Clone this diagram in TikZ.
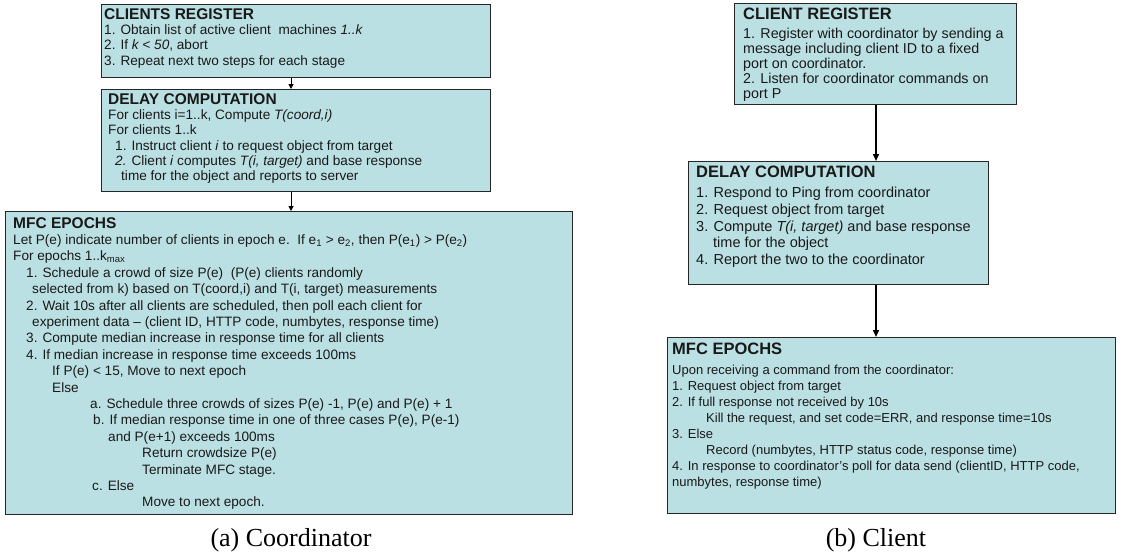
\documentclass[tikz,border=0pt]{standalone}
\usepackage{fontspec}
\setmainfont{Liberation Sans}
\newfontfamily\capfont{Liberation Serif}
\usetikzlibrary{arrows.meta}
\definecolor{boxfill}{RGB}{187,224,227}
\newcommand{\lhead}[1]{{\fontsize{15.5}{16}\selectfont\bfseries #1}}
\newcommand{\rhead}[1]{{\fontsize{16.5}{17}\selectfont\bfseries #1}}

\begin{document}
\begin{tikzpicture}[x=1pt, y=-1pt,
  box/.style={draw=black!85, line width=1.2pt, fill=boxfill, anchor=north west, inner sep=0pt},
  txt/.style={anchor=north west, align=left, inner sep=0pt, text=black!90},
  leftfont/.style={font=\fontsize{13.6}{15.2}\selectfont},
  epochfont/.style={font=\fontsize{13.6}{16.4}\selectfont},
  regfont/.style={font=\fontsize{14.3}{15}\selectfont},
  rightfont/.style={font=\fontsize{14.5}{16.8}\selectfont},
  smallfont/.style={font=\fontsize{13}{16}\selectfont},
  flow/.style={line width=1pt, -{Triangle[length=5pt,width=5pt]}},
  bigflow/.style={line width=1.5pt, -{Triangle[length=7pt,width=6pt]}},
  caption/.style={font=\capfont\fontsize{26}{30}\selectfont}
]
\useasboundingbox (0,0) rectangle (1126,558);

% (a) Coordinator
\node[box, minimum width=389, minimum height=73] (reg) at (101,4) {};
\node[box, minimum width=389, minimum height=102] (delay) at (101,89) {};
\node[box, minimum width=567, minimum height=303] (epochs) at (5,211) {};

\node[txt, leftfont] (regtxt) at ([shift={(3,4.5)}]reg.north west) {\lhead{CLIENTS REGISTER}\\
1. Obtain list of active client\ \ machines \textit{1..k}\\
2. If \textit{k < 50}, abort\\
3. Repeat next two steps for each stage};

\node[txt, leftfont] (delaytxt) at ([shift={(7,4.5)}]delay.north west) {\lhead{DELAY COMPUTATION}\\
For clients i=1..k, Compute \textit{T(coord,i)}\\
For clients 1..k\\
\hspace*{7pt}1. Instruct client \textit{i} to request object from target\\
\hspace*{7pt}\textit{2.} Client \textit{i} computes \textit{T(i, target)} and base response\\
\hspace*{13pt}time for the object and reports to server};

\node[txt, epochfont] (epochstxt) at ([shift={(8,6)}]epochs.north west) {\lhead{MFC EPOCHS}\\
Let P(e) indicate number of clients in epoch e.\ \ If e\textsubscript{1} > e\textsubscript{2}, then P(e\textsubscript{1}) > P(e\textsubscript{2})\\
For epochs 1..k\textsubscript{max}\\
\hspace*{13pt}1. Schedule a crowd of size P(e)\ \ (P(e) clients randomly\\
\hspace*{19pt}selected from k) based on T(coord,i) and T(i, target) measurements\\
\hspace*{13pt}2. Wait 10s after all clients are scheduled, then poll each client for\\
\hspace*{19pt}experiment data -- (client ID, HTTP code, numbytes, response time)\\
\hspace*{13pt}3. Compute median increase in response time for all clients\\
\hspace*{13pt}4. If median increase in response time exceeds 100ms\\
\hspace*{39pt}If P(e) < 15, Move to next epoch\\
\hspace*{39pt}Else\\
\hspace*{77pt}a. Schedule three crowds of sizes P(e) -1, P(e) and P(e) + 1\\
\hspace*{80pt}b. If median response time in one of three cases P(e), P(e-1)\\
\hspace*{95pt}and P(e+1) exceeds 100ms\\
\hspace*{129pt}Return crowdsize P(e)\\
\hspace*{129pt}Terminate MFC stage.\\
\hspace*{79pt}c. Else\\
\hspace*{129pt}Move to next epoch.};

\coordinate (lx) at (291,0);
\draw[flow] (reg.south -| lx) -- (delay.north -| lx);
\draw[flow] (delay.south -| lx) -- (epochs.north -| lx);

\node[caption] (capa) at (291,540) {(a) Coordinator};

% (b) Client
\node[box, minimum width=282, minimum height=101] (creg) at (734,3) {};
\node[box, minimum width=300, minimum height=123] (cdelay) at (688,161) {};
\node[box, minimum width=448, minimum height=176] (cepochs) at (667,337) {};

\node[txt, regfont] (cregtxt) at ([shift={(9,4.5)}]creg.north west) {\rhead{CLIENT REGISTER}\\[4.5pt]
1. Register with coordinator by sending a\\
message including client ID to a fixed\\
port on coordinator.\\
2. Listen for coordinator commands on\\
port P};

\node[txt, rightfont] (cdelaytxt) at ([shift={(8,5)}]cdelay.north west) {\rhead{DELAY COMPUTATION}\\[3pt]
1. Respond to Ping from coordinator\\
2. Request object from target\\
3. Compute \textit{T(i, target)} and base response\\
\hspace*{17pt}time for the object\\
4. Report the two to the coordinator};

\node[txt, smallfont] (cepochstxt) at ([shift={(5,5.5)}]cepochs.north west) {\rhead{MFC EPOCHS}\\[4pt]
Upon receiving a command from the coordinator:\\
1. Request object from target\\
2. If full response not received by 10s\\
\hspace*{34pt}Kill the request, and set code=ERR, and response time=10s\\
3. Else\\
\hspace*{34pt}Record (numbytes, HTTP status code, response time)\\
4. In response to coordinator's poll for data send (clientID, HTTP code,\\
numbytes, response time)};

\coordinate (rx) at (876,0);
\draw[bigflow] (creg.south -| rx) -- (cdelay.north -| rx);
\draw[bigflow] (cdelay.south -| rx) -- (cepochs.north -| rx);

\node[caption] (capb) at (876,540) {(b) Client};
\end{tikzpicture}
\end{document}
